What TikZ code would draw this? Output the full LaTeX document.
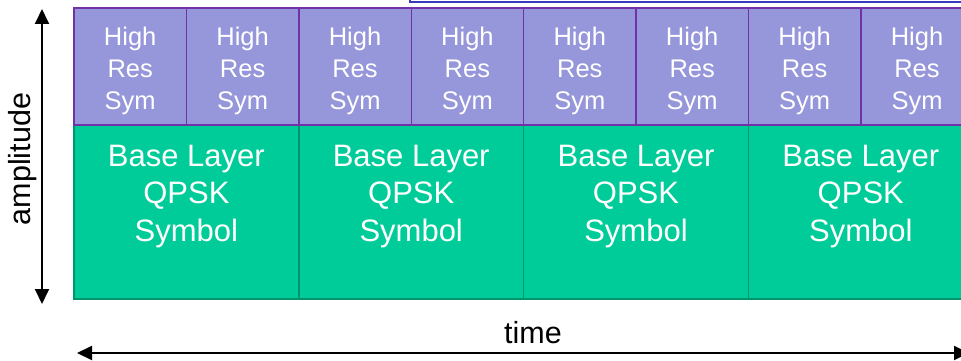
\documentclass[tikz,border=0pt]{standalone}
\usepackage{fontspec}
\setmainfont{Liberation Sans}
\usetikzlibrary{arrows.meta,calc}
\definecolor{hrfill}{HTML}{9696DA}
\definecolor{hredge}{HTML}{7032A6}
\definecolor{basefill}{HTML}{00CC99}
\definecolor{baseedge}{HTML}{00956C}
\definecolor{framblue}{HTML}{3A3AC0}
\tikzset{
  hrbox/.style={draw=hredge, fill=hrfill, line width=1.4pt, anchor=north west,
    minimum width=112.4pt, minimum height=117pt, inner sep=0pt, outer sep=0pt},
  hrtext/.style={text=white, align=center, inner sep=0pt, anchor=base,
    font=\fontsize{25.5}{32}\selectfont},
  basebox/.style={draw=baseedge, fill=basefill, line width=1.5pt, anchor=north west,
    minimum width=224.8pt, minimum height=174pt, inner sep=0pt, outer sep=0pt},
  basetext/.style={text=white, align=center, inner sep=0pt, anchor=base,
    font=\fontsize{31}{37.5}\selectfont},
  axislabel/.style={text=black, inner sep=0pt, anchor=base, font=\fontsize{30.5}{36}\selectfont},
  axisarrow/.style={line width=1.9pt, {Triangle[length=15pt,width=14pt]}-{Triangle[length=15pt,width=14pt]}}
}
\begin{document}
\begin{tikzpicture}[x=1pt,y=-1pt]
\useasboundingbox (0,0) rectangle (961,361);

% frame edge peeking in at the top right
\draw[framblue, line width=2pt] (410,-20) rectangle (1000,2.5);

% base layer QPSK symbols (text anchored on the baseline of its last line)
\foreach \i in {0,1,2,3} {
  \node[basebox] (base\i) at ({74+224.8*\i},125) {};
  \node[basetext] (basetxt\i) at ({74+224.8*\i+112.4},241) {Base Layer\\QPSK\\Symbol};
}
% thicker lower edge of the base layer
\draw[baseedge, line width=2.4pt] (base0.south west) -- (base3.south east);

% high resolution symbols on top
\foreach \j in {0,...,7} {
  \node[hrbox] (hr\j) at ({74+112.4*\j},8) {};
  \node[hrtext] (hrtxt\j) at ($(hr\j.north)+(0,101)$) {High\\Res\\Sym};
}

% axes
\coordinate (ampTop) at (42,9);
\coordinate (ampBot) at (42,304);
\draw[axisarrow] (ampBot) -- (ampTop);
\node[axislabel, rotate=90] (amp) at (30,159) {amplitude};

\coordinate (timeL) at (77,353);
\coordinate (timeR) at (969,353);
\draw[axisarrow] (timeL) -- (timeR);
\node[axislabel] (time) at (533,343) {time};
\end{tikzpicture}
\end{document}
